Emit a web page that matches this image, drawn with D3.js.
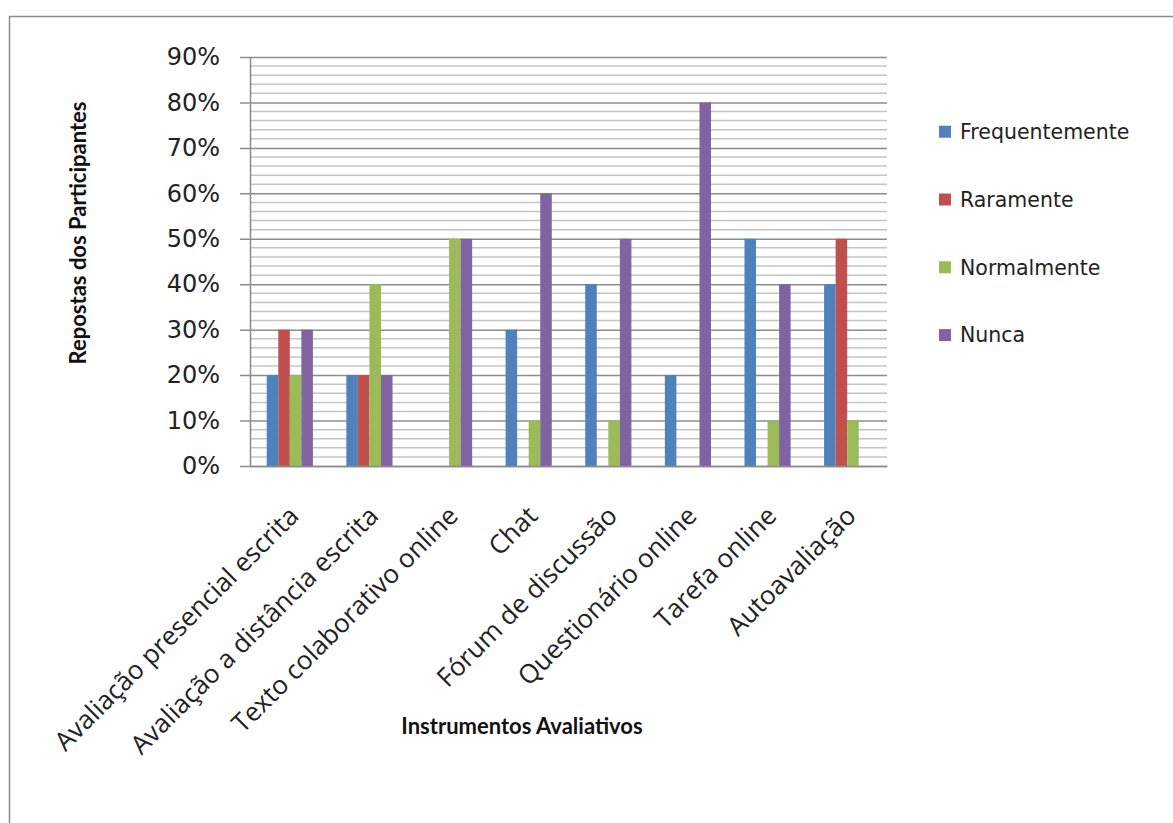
<!DOCTYPE html>
<html>
<head>
<meta charset="utf-8">
<script src="https://cdn.jsdelivr.net/npm/d3@7"></script>
<style>
  body { margin: 0; background: #fff; }
  svg { display: block; }
</style>
</head>
<body>
<script>
var categories = ["Avaliação presencial escrita", "Avaliação a distância escrita", "Texto colaborativo online",
  "Chat", "Fórum de discussão", "Questionário online", "Tarefa online", "Autoavaliação"];
var seriesNames = ["Frequentemente", "Raramente", "Normalmente", "Nunca"];
var seriesColors = ["#4f81bd", "#c0504d", "#9bbb59", "#8064a2"];

var frequentemente = [0.20, 0.20, 0.00, 0.30, 0.40, 0.20, 0.50, 0.40];
var raramente      = [0.30, 0.20, 0.00, 0.00, 0.00, 0.00, 0.00, 0.50];
var normalmente    = [0.20, 0.40, 0.50, 0.10, 0.10, 0.00, 0.10, 0.10];
var nunca          = [0.30, 0.20, 0.50, 0.60, 0.50, 0.80, 0.40, 0.00];
var seriesValues = [frequentemente, raramente, normalmente, nunca];

var yTicks = [0, 0.1, 0.2, 0.3, 0.4, 0.5, 0.6, 0.7, 0.8, 0.9];

var width = 1173, height = 823;
var plot = { left: 250, right: 887, top: 57, bottom: 466 };

var svg = d3.select("body").append("svg")
  .attr("width", width)
  .attr("height", height);

// outer chart frame (runs off the page on the right and bottom)
svg.append("rect")
  .attr("x", 9.5).attr("y", 16.5)
  .attr("width", width + 20).attr("height", height + 20)
  .attr("fill", "#fff")
  .attr("stroke", "#8c8c8c")
  .attr("stroke-width", 1.5);

var x0 = d3.scaleBand()
  .domain(categories)
  .range([plot.left, plot.right])
  .paddingInner(0.42)
  .paddingOuter(0.21);

var x1 = d3.scaleBand()
  .domain(seriesNames)
  .range([0, x0.bandwidth()]);

var y = d3.scaleLinear()
  .domain([0, 0.9])
  .range([plot.bottom, plot.top]);

// minor gridlines every 2%
var minorTicks = d3.range(0, 46).map(function(i) { return i * 0.02; })
  .filter(function(v) { return Math.round(v * 100) % 10 !== 0; });

svg.append("g").selectAll("line")
  .data(minorTicks)
  .join("line")
    .attr("x1", plot.left).attr("x2", plot.right)
    .attr("y1", function(d) { return y(d); })
    .attr("y2", function(d) { return y(d); })
    .attr("stroke", "#c4c4c4")
    .attr("stroke-width", 1.5);

var yAxis = d3.axisLeft(y)
  .tickValues(yTicks)
  .tickFormat(d3.format(".0%"))
  .tickSizeInner(-(plot.right - plot.left))
  .tickSizeOuter(0)
  .tickPadding(0);

var yg = svg.append("g")
  .attr("transform", "translate(" + plot.left + ",0)")
  .call(yAxis);

yg.select(".domain").attr("stroke", "#8c8c8c").attr("stroke-width", 1.5);
yg.selectAll(".tick line")
  .attr("x1", -10)
  .attr("stroke", "#8c8c8c")
  .attr("stroke-width", 1.5);
yg.selectAll(".tick text")
  .attr("x", -30)
  .attr("fill", "#222")
  .style("font-family", "'DejaVu Sans', sans-serif")
  .style("font-size", "24px");

// bars
var groups = svg.append("g").selectAll("g")
  .data(categories)
  .join("g")
    .attr("transform", function(d) { return "translate(" + x0(d) + ",0)"; });

groups.selectAll("rect")
  .data(function(d, i) {
    return seriesNames.map(function(s, k) { return { key: s, k: k, value: seriesValues[k][i] }; });
  })
  .join("rect")
    .filter(function(d) { return d.value > 0; })
    .attr("x", function(d) { return x1(d.key); })
    .attr("width", x1.bandwidth())
    .attr("y", function(d) { return y(d.value); })
    .attr("height", function(d) { return plot.bottom - y(d.value); })
    .attr("fill", function(d) { return seriesColors[d.k]; });

// x axis
var xAxis = d3.axisBottom(x0).tickSize(0).tickPadding(0);
var xg = svg.append("g")
  .attr("transform", "translate(0," + plot.bottom + ")")
  .call(xAxis);
xg.select(".domain").attr("stroke", "#8c8c8c").attr("stroke-width", 1.5);
xg.selectAll(".tick text")
  .attr("text-anchor", "end")
  .attr("dy", "0.35em")
  .attr("transform", "translate(4,45) rotate(-45)")
  .attr("y", 0)
  .attr("fill", "#222")
  .style("font-family", "'Open Sans', sans-serif")
  .style("font-size", "26px");

// axis titles
svg.append("text")
  .attr("transform", "translate(86,233) rotate(-90)")
  .attr("text-anchor", "middle")
  .style("font-family", "Lato, sans-serif")
  .style("font-weight", "bold")
  .style("font-size", "22px")
  .attr("fill", "#111")
  .text("Repostas dos Participantes");

svg.append("text")
  .attr("x", 522).attr("y", 734)
  .attr("text-anchor", "middle")
  .style("font-family", "Lato, sans-serif")
  .style("font-weight", "bold")
  .style("font-size", "22px")
  .attr("fill", "#111")
  .text("Instrumentos Avaliativos");

// legend
var legend = svg.append("g").selectAll("g")
  .data(seriesNames)
  .join("g")
    .attr("transform", function(d, i) { return "translate(939," + (131.7 + i * 67.8) + ")"; });

legend.append("rect")
  .attr("x", 0).attr("y", -6)
  .attr("width", 12).attr("height", 12)
  .attr("fill", function(d, i) { return seriesColors[i]; });

legend.append("text")
  .attr("x", 21).attr("dy", "0.36em")
  .style("font-family", "'DejaVu Sans', sans-serif")
  .style("font-size", "20.5px")
  .attr("fill", "#222")
  .text(function(d) { return d; });
</script>
</body>
</html>
